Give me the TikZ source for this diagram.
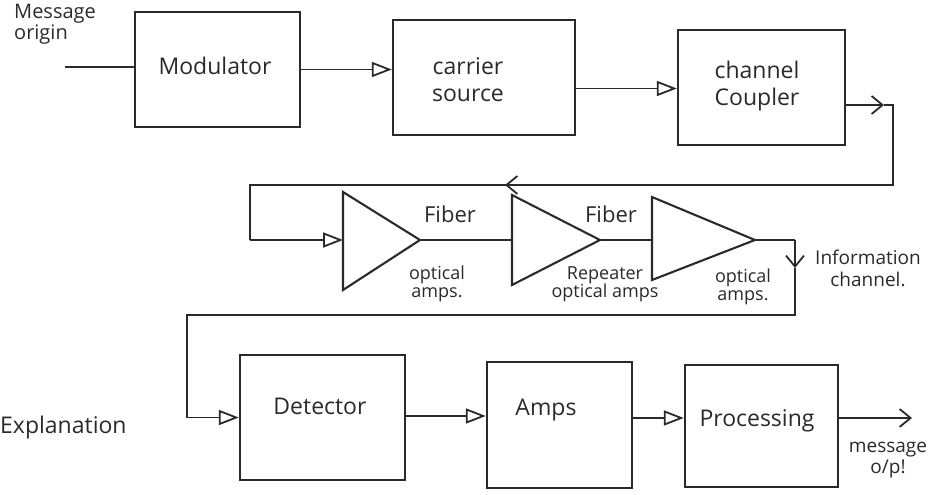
\documentclass[tikz,border=0pt]{standalone}
\usepackage{fontspec}
\setmainfont{Open Sans}
\usetikzlibrary{arrows.meta,calc}
\definecolor{ink}{HTML}{2A2A2A}
\begin{document}
\begin{tikzpicture}[x=1pt,y=-1pt,
  blk/.style={draw=ink,line width=2.4pt,inner sep=0pt,text=ink},
  wire/.style={draw=ink,line width=1.9pt},
  arr/.style={wire,-{Triangle[open,length=20pt,width=15pt,line width=1.8pt]}},
  barb/.style={wire,-{Straight Barb[length=11pt,width=18pt,line width=1.8pt]}},
  hand/.style={text=ink,font=\fontsize{23}{27}\selectfont,align=center,inner sep=0pt},
  small/.style={text=ink,font=\fontsize{18}{18}\selectfont,align=center,inner sep=0pt},
  tri/.style={draw=ink,line width=2.1pt}]
\useasboundingbox (0,0) rectangle (932,495);

% blocks
\node[blk,minimum width=165pt,minimum height=115pt] (mod) at (217.5,69.5) {};
\node[blk,minimum width=182pt,minimum height=115pt] (car) at (484,77.5) {};
\node[blk,minimum width=167pt,minimum height=115pt] (cpl) at (761.5,87.5) {};
\node[blk,minimum width=165pt,minimum height=125pt] (det) at (322.5,417.5) {};
\node[blk,minimum width=145pt,minimum height=126pt] (amp) at (559.5,425) {};
\node[blk,minimum width=153pt,minimum height=122pt] (pro) at (761.5,426) {};

% block texts
\node[hand] (tmod) at (215,66) {Modulator};
\node[hand] (tcar) at (468,80) {carrier\\source};
\node[hand] (tcpl) at (757,86) {channel\\Coupler};
\node[hand] (tdet) at (320,406) {Detector};
\node[hand] (tamp) at (546,410) {Amps};
\node[hand] (tpro) at (757,421) {Processing};

% triangles (optical amplifiers)
\coordinate (t1a) at (343,192); \coordinate (t1b) at (343,290); \coordinate (t1o) at (420,240);
\coordinate (t2a) at (512,195); \coordinate (t2b) at (512,285); \coordinate (t2o) at (600,240);
\coordinate (t3a) at (652,197); \coordinate (t3b) at (652,280); \coordinate (t3o) at (755,240);
\coordinate (t1i) at (343,240); \coordinate (t2i) at (512,240); \coordinate (t3i) at (652,240);
\draw[tri] (t1a) -- (t1o) -- (t1b) -- cycle;
\draw[tri] (t2a) -- (t2o) -- (t2b) -- cycle;
\draw[tri] (t3a) -- (t3o) -- (t3b) -- cycle;

% input
\coordinate (min) at (65,67);
\draw[wire] (min) -- (min -| mod.west);
\node[small,font=\fontsize{20}{21}\selectfont,align=left,anchor=north west] (tmo) at (14,4) {Message\\origin};

% top row connectors
\draw[arr] (mod.east) -- (mod.east -| car.west);
\coordinate (c0) at (575,88.5);
\draw[arr] (c0) -- (c0 -| cpl.west);

% return to fibre line
\coordinate (r1) at (845,105);
\coordinate (r1m) at (884,105);
\coordinate (r2) at (893,105);
\coordinate (r3) at (893,185);
\coordinate (r3m) at (505,185);
\coordinate (r4) at (250,185);
\coordinate (r5) at (250,240);
\draw[barb] (r1) -- (r1m);
\draw[wire] (r1m) -- (r2) -- (r3) -- (r3m);
\draw[barb] (r3) -- (r3m);
\draw[wire] (r3m) -- (r4) -- (r5);
\draw[arr] (r5) -- (t1i);

% fibre line
\draw[wire] (t1o) -- (t2i);
\draw[wire] (t2o) -- (t3i);
\coordinate (s1) at (795,240);
\coordinate (s1m) at (795,268);
\coordinate (s2) at (795,315);
\coordinate (s3) at (187,315);
\coordinate (s4) at (187,417.5);
\draw[wire] (t3o) -- (s1);
\draw[barb] (s1) -- (s1m);
\draw[wire] (s1m) -- (s2) -- (s3) -- (s4);
\draw[arr] (s4) -- (det.west);

% fibre labels
\node[hand,font=\fontsize{22}{22}\selectfont] (f1) at (450,214) {Fiber};
\node[hand,font=\fontsize{22}{22}\selectfont] (f2) at (611,214) {Fiber};
\node[small] (l1) at (437,284) {optical\\amps.};
\node[small] (l2) at (605,284) {Repeater\\optical amps};
\node[small] (l3) at (743,287) {optical\\amps.};
\node[small,font=\fontsize{19}{22}\selectfont] (info) at (868,268) {Information\\channel.};

% bottom row
\coordinate (b1) at (405,416);
\coordinate (b2) at (632,418);
\coordinate (b3) at (838,418);
\coordinate (out) at (912,418);
\draw[arr] (b1) -- (b1 -| amp.west);
\draw[arr] (b2) -- (b2 -| pro.west);
\draw[barb] (b3) -- (out);
\node[small,font=\fontsize{19}{21}\selectfont] (mop) at (888,460) {message\\o/p!};

\node[text=ink,font=\fontsize{23}{26}\selectfont,anchor=west,inner sep=0pt] (expl) at (0,428) {Explanation};
\end{tikzpicture}
\end{document}
